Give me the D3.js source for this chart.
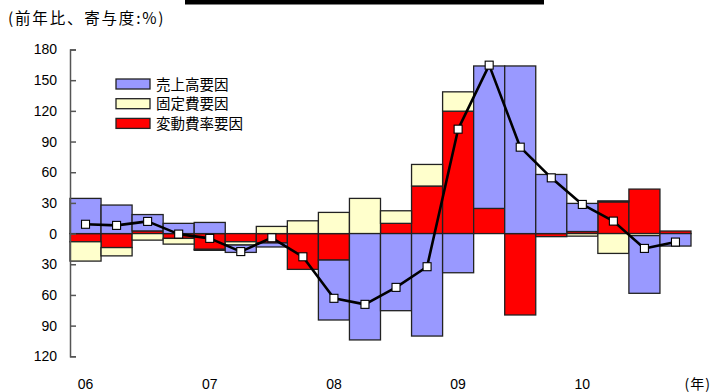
<!DOCTYPE html>
<html>
<head>
<meta charset="utf-8">
<script src="https://cdn.jsdelivr.net/npm/d3@7"></script>
<style>
  html, body { margin: 0; padding: 0; background: #fff; }
  svg { display: block; }
  text { font-family: "Liberation Sans", Arial, sans-serif; fill: #000; }
  .jp { font-family: "Noto Sans CJK JP", "Noto Sans", sans-serif; }
</style>
</head>
<body>
<svg id="chart" width="712" height="392"></svg>
<script>
// Quarterly contributions to year-on-year operating profit change (%)
const quarters = [
  "06Q1","06Q2","06Q3","06Q4","07Q1","07Q2","07Q3","07Q4",
  "08Q1","08Q2","08Q3","08Q4","09Q1","09Q2","09Q3","09Q4",
  "10Q1","10Q2","10Q3","10Q4"
];
// 売上高要因
const salesFactor = [34.4, 27.9, 16.0, 10.0, 10.9, -7.2, -3.9, 0,
  -58.6, -104, -75.4, -100.2, -38.3, 139.3, 163.9, 57.8,
  27.5, 1.0, -56.4, -12.2];
// 固定費要因
const fixedCostFactor = [-18.9, -8.1, -6.4, -5.6, -1.0, -3.2, 7.0, 12.5,
  20.7, 34.4, 12.3, 21.1, 18.9, 0, 0, 0,
  -2.5, -19.4, -2.0, 0];
// 変動費率要因
const variableCostFactor = [-8.0, -13.7, 2.6, -4.7, -15.4, -8.0, -9.2, -35.0,
  -25.9, 0, 10.0, 46.5, 119.7, 24.6, -79.6, -3.0,
  2.0, 31.0, 43.5, 2.5];
// 営業利益 前年比
const profitGrowth = [9.1, 8.0, 11.9, -0.5, -4.7, -17.6, -4.1, -22.7,
  -63.3, -69.2, -52.6, -32.4, 102.1, 164.7, 84.5, 54.5,
  28.5, 12.2, -14.5, -8.3];

const yTicks = [-120, -90, -60, -30, 0, 30, 60, 90, 120, 150, 180];
const yearLabels = ["06", "07", "08", "09", "10"];
const yearFirstQuarter = ["06Q1", "07Q1", "08Q1", "09Q1", "10Q1"];

const seriesNames = ["売上高要因", "固定費要因", "変動費率要因"];
const seriesColors = ["#9999ff", "#ffffcc", "#ff0000"];

const svg = d3.select("#chart");

const x = d3.scaleBand().domain(quarters).range([70, 691]).padding(0);
const y = d3.scaleLinear().domain([-120, 180]).range([356.3, 49.5]);

// rows for stacking
const rows = quarters.map((q, i) => ({
  q,
  variable: variableCostFactor[i],
  fixed: fixedCostFactor[i],
  sales: salesFactor[i]
}));
const keys = ["variable", "fixed", "sales"];
const colorOf = { sales: seriesColors[0], fixed: seriesColors[1], variable: seriesColors[2] };

const stacked = d3.stack().keys(keys).offset(d3.stackOffsetDiverging)(rows);

// header bar and unit caption
svg.append("rect").attr("x", 185).attr("y", 0).attr("width", 359).attr("height", 4.5).attr("fill", "#000");
svg.append("text").attr("class", "jp")
  .attr("x", 8).attr("y", 24)
  .style("font-size", "15.5px")
  .style("letter-spacing", "1.8px")
  .text("(前年比、寄与度:%)");

// stacked bars
svg.append("g").selectAll("g")
  .data(stacked)
  .join("g")
  .attr("fill", d => colorOf[d.key])
  .selectAll("rect")
  .data(d => d)
  .join("rect")
  .filter(d => Math.abs(d[1] - d[0]) > 0)
  .attr("x", d => x(d.data.q))
  .attr("width", x.bandwidth())
  .attr("y", d => y(Math.max(d[0], d[1])))
  .attr("height", d => Math.abs(y(d[0]) - y(d[1])))
  .attr("stroke", "#222")
  .attr("stroke-width", 1.3);

// y axis with inward ticks
const yAxis = d3.axisLeft(y)
  .tickValues(yTicks)
  .tickSizeInner(-6)
  .tickSizeOuter(-6)
  .tickPadding(13)
  .tickFormat(d => String(Math.abs(d)));

const gy = svg.append("g").attr("transform", "translate(70,0)").call(yAxis);
gy.select(".domain").attr("stroke", "#555").attr("stroke-width", 1.5);
gy.selectAll(".tick line").attr("stroke", "#555").attr("stroke-width", 1.5);
gy.selectAll(".tick text")
  .attr("font-family", "Liberation Sans, Arial, sans-serif")
  .attr("font-size", 14)
  .attr("fill", "#000");

// year labels
svg.append("g").selectAll("text")
  .data(yearLabels)
  .join("text")
  .attr("x", (d, i) => x(yearFirstQuarter[i]) + x.bandwidth() / 2)
  .attr("y", 389)
  .attr("text-anchor", "middle")
  .style("font-size", "14px")
  .text(d => d);

svg.append("text").attr("class", "jp")
  .attr("x", 711).attr("y", 389)
  .attr("text-anchor", "end")
  .style("font-size", "14px")
  .style("letter-spacing", "1px")
  .text("(年)");

// profit growth line with square markers
const cx = q => x(q) + x.bandwidth() / 2;
const line = d3.line().x((d, i) => cx(quarters[i])).y(d => y(d));

svg.append("path")
  .datum(profitGrowth)
  .attr("fill", "none")
  .attr("stroke", "#000")
  .attr("stroke-width", 2.6)
  .attr("stroke-linejoin", "round")
  .attr("d", line);

const m = 8;
svg.append("g").selectAll("rect")
  .data(profitGrowth)
  .join("rect")
  .attr("x", (d, i) => cx(quarters[i]) - m / 2)
  .attr("y", d => y(d) - m / 2)
  .attr("width", m)
  .attr("height", m)
  .attr("fill", "#fff")
  .attr("stroke", "#000")
  .attr("stroke-width", 1.1);

// legend
const legend = svg.append("g").attr("transform", "translate(116,79)");
const item = legend.selectAll("g")
  .data(seriesNames)
  .join("g")
  .attr("transform", (d, i) => `translate(0,${i * 19.7})`);
item.append("rect")
  .attr("width", 34).attr("height", 10)
  .attr("fill", (d, i) => seriesColors[i])
  .attr("stroke", "#222").attr("stroke-width", 1.3);
item.append("text").attr("class", "jp")
  .attr("x", 40).attr("y", 10.5)
  .style("font-size", "14.5px")
  .text(d => d);
</script>
</body>
</html>
